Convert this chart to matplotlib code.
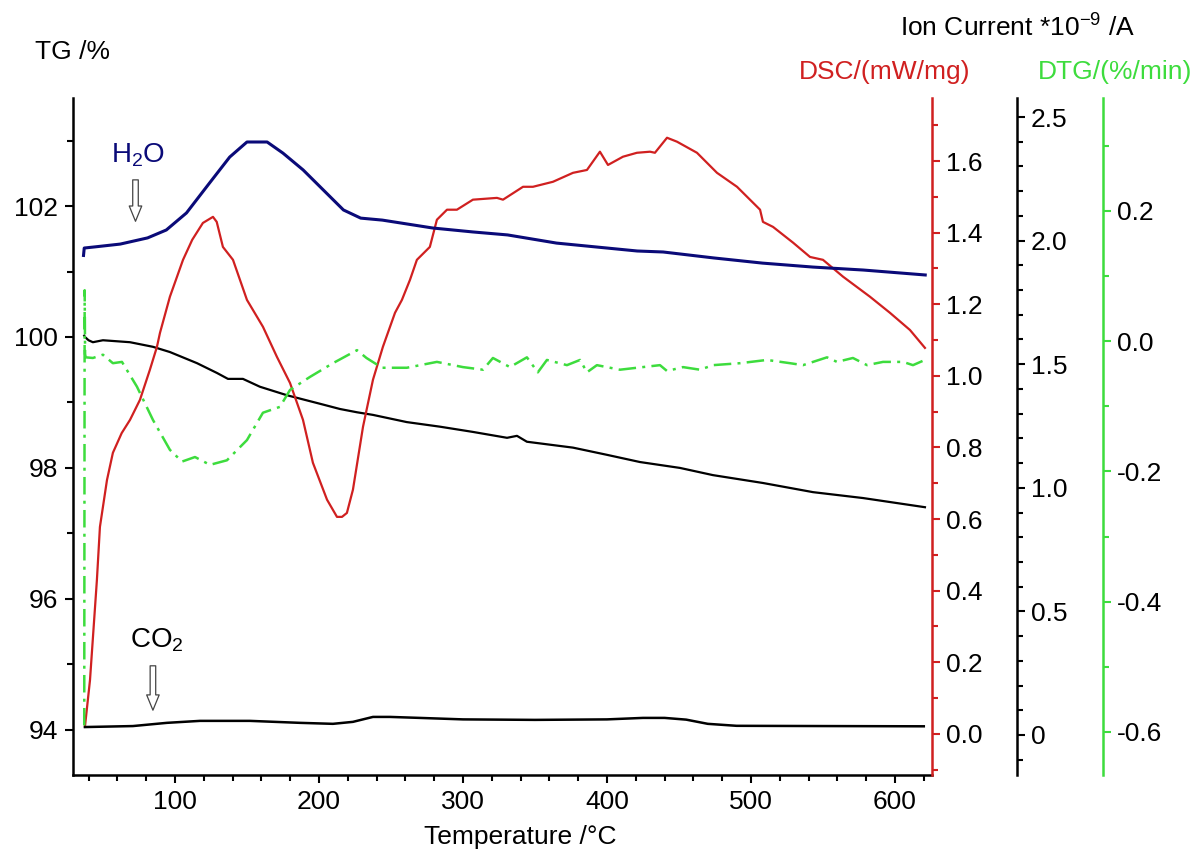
import matplotlib
matplotlib.use("Agg")
import matplotlib.pyplot as plt
from matplotlib.ticker import FixedLocator, MultipleLocator

plt.rcParams['font.family'] = ['Liberation Sans', 'DejaVu Sans']
plt.rcParams['mathtext.fontset'] = 'custom'
plt.rcParams['mathtext.rm'] = 'Liberation Sans'
plt.rcParams['axes.unicode_minus'] = False

# ---- data ----
# TG (%)
tg_T = [37, 37.5, 40, 43, 50, 68.8, 84.7, 96.5, 115.3, 129.2, 136.8, 147.2, 159, 177.8,
        200.7, 214.6, 226.4, 237.5, 261, 284, 306.9, 330.6, 337.5, 344.4, 376.4, 400,
        422.9, 450.7, 473.6, 508.3, 543.1, 577.8, 620.8]
tg_val = [100.02, 100.0, 99.95, 99.92, 99.95, 99.92, 99.85, 99.77, 99.60, 99.45, 99.36,
          99.36, 99.24, 99.11, 98.98, 98.90, 98.85, 98.81, 98.70, 98.63, 98.55, 98.46,
          98.49, 98.40, 98.31, 98.20, 98.09, 98.00, 97.89, 97.77, 97.63, 97.54, 97.40]

# DSC (mW/mg)
dsc_T = [37.5, 41, 45.8, 47.9, 52.8, 56.9, 63, 68.8, 75.7, 82.6, 87.5, 89.6, 96.5, 105.6,
         112, 119.4, 126.4, 129, 133.3, 140.3, 150, 161.1, 170.8, 179.9, 188.9, 195.8,
         205.6, 212.5, 216, 219.4, 223.6, 230.6, 237.5, 244.4, 252.8, 257.6, 263.2, 268,
         277, 281.9, 288.9, 295.8, 306.9, 323.6, 327.8, 341.7, 348.6, 362.5, 376.4, 386.1,
         395.1, 400.7, 411.1, 420.8, 429.9, 433.3, 441.7, 448.6, 462.5, 476.4, 490.3,
         506.3, 508.3, 515.3, 529.2, 541, 550, 563.9, 582.6, 596.5, 610.4, 620.8]
dsc_val = [0.02, 0.15, 0.43, 0.578, 0.709, 0.785, 0.84, 0.877, 0.933, 1.017, 1.081, 1.120,
           1.221, 1.324, 1.38, 1.427, 1.444, 1.43, 1.360, 1.324, 1.212, 1.137, 1.053, 0.980,
           0.877, 0.757, 0.654, 0.606, 0.606, 0.617, 0.682, 0.858, 0.989, 1.081, 1.176,
           1.212, 1.268, 1.324, 1.360, 1.436, 1.464, 1.464, 1.492, 1.497, 1.492, 1.528,
           1.528, 1.542, 1.567, 1.575, 1.626, 1.589, 1.612, 1.623, 1.626, 1.623, 1.665,
           1.654, 1.623, 1.567, 1.528, 1.464, 1.430, 1.416, 1.372, 1.332, 1.324, 1.277,
           1.221, 1.176, 1.128, 1.078]

# ion current, H2O (x1e-9 A)
h2o_T = [36.5, 37, 45, 62, 81, 94, 108, 124, 138, 150, 164, 175, 189, 203, 217, 229, 244,
         279, 307, 331, 365, 400, 421, 439, 474, 508, 543, 578, 621]
h2o_val = [1.94, 1.97, 1.975, 1.986, 2.011, 2.043, 2.112, 2.233, 2.338, 2.399, 2.399, 2.354,
           2.286, 2.205, 2.124, 2.091, 2.083, 2.051, 2.035, 2.023, 1.990, 1.970, 1.958,
           1.954, 1.930, 1.909, 1.893, 1.881, 1.861]

# ion current, CO2 (x1e-9 A)
co2_T = [37.5, 70.8, 94.4, 117.4, 152, 186.8, 209.7, 223.6, 237.5, 249.3, 270, 300, 350,
         400, 425, 440, 455, 470, 490, 550, 620]
co2_val = [0.032, 0.036, 0.049, 0.057, 0.057, 0.049, 0.045, 0.053, 0.073, 0.073, 0.069,
           0.063, 0.061, 0.063, 0.069, 0.069, 0.062, 0.045, 0.037, 0.036, 0.035]

# DTG (%/min)
dtg_T = [37, 37.3, 37.6, 38, 43, 50, 56.9, 63.2, 73.6, 84.7, 96.5, 104.9, 113.9, 124.3,
         136.1, 150, 161.1, 172.9, 179.9, 193.8, 209.7, 226.4, 233, 243.8, 261, 281.9, 300,
         313.9, 320.8, 332.6, 344.4, 352, 358.3, 372.2, 381.3, 386.1, 393, 409, 420.8,
         436.8, 441.7, 452.8, 464.6, 473.6, 492.4, 511.1, 527.1, 536.1, 552.8, 559.7,
         570.8, 580.6, 591.7, 605.6, 612.5, 620.8]
dtg_val = [-0.59, 0.078, -0.02, -0.025, -0.026, -0.021, -0.034, -0.032, -0.070, -0.121,
           -0.167, -0.185, -0.178, -0.190, -0.183, -0.152, -0.110, -0.101, -0.075, -0.055,
           -0.034, -0.014, -0.026, -0.041, -0.041, -0.032, -0.040, -0.044, -0.026, -0.040,
           -0.025, -0.048, -0.029, -0.037, -0.029, -0.048, -0.037, -0.044, -0.041, -0.037,
           -0.046, -0.040, -0.044, -0.037, -0.034, -0.029, -0.034, -0.037, -0.025, -0.032,
           -0.026, -0.037, -0.032, -0.032, -0.037, -0.029]

x_ticks = [100, 200, 300, 400, 500, 600]
tg_ticks = [94, 96, 98, 100, 102]
dsc_ticks = [0.0, 0.2, 0.4, 0.6, 0.8, 1.0, 1.2, 1.4, 1.6]
ion_ticks = [0, 0.5, 1.0, 1.5, 2.0, 2.5]
ion_labels = ['0', '0.5', '1.0', '1.5', '2.0', '2.5']
dtg_ticks = [-0.6, -0.4, -0.2, 0.0, 0.2]

RED = '#d02020'
GREEN = '#3ddc3d'
NAVY = '#0a0a78'
FS = 19

fig = plt.figure(figsize=(11.96, 8.5), dpi=100)
W, H = 1196, 850
ax = fig.add_axes([73 / W, 1 - 775 / H, (932 - 73) / W, (775 - 98) / H])
ax2 = ax.twinx()
ax3 = ax.twinx()
ax4 = ax.twinx()


def style_axis(a, side, color):
    for s in ['top', 'left', 'right', 'bottom']:
        a.spines[s].set_visible(False)
    a.spines[side].set_visible(True)
    a.spines[side].set_color(color)
    a.spines[side].set_linewidth(1.8)
    a.tick_params(axis='y', which='both', colors=color, direction='out', width=1.5,
                  labelsize=FS, labelcolor='black', pad=4)
    a.tick_params(axis='y', which='major', length=6)
    a.tick_params(axis='y', which='minor', length=4)


# TG axis (left)
ax.plot(tg_T, tg_val, color='black', lw=1.6)
ax.set_xlim(29.2, 625.7)
ax.set_ylim(93.31, 103.65)
for s in ['top', 'right']:
    ax.spines[s].set_visible(False)
for s in ['left', 'bottom']:
    ax.spines[s].set_linewidth(1.8)
ax.xaxis.set_major_locator(FixedLocator(x_ticks))
ax.xaxis.set_minor_locator(MultipleLocator(20))
ax.yaxis.set_major_locator(FixedLocator(tg_ticks))
ax.yaxis.set_minor_locator(MultipleLocator(1))
ax.tick_params(which='both', direction='out', width=1.5, labelsize=FS)
ax.tick_params(which='major', length=6)
ax.tick_params(which='minor', length=4)
ax.tick_params(axis='x', pad=5)
ax.tick_params(axis='y', pad=5)

# DSC axis
ax2.plot(dsc_T, dsc_val, color=RED, lw=1.6)
ax2.set_ylim(-0.115, 1.776)
style_axis(ax2, 'right', RED)
ax2.yaxis.set_major_locator(FixedLocator(dsc_ticks))
ax2.yaxis.set_minor_locator(MultipleLocator(0.1))
ax2.set_yticklabels(['%.1f' % v for v in dsc_ticks])

# ion current axis
ax3.plot(h2o_T, h2o_val, color=NAVY, lw=2.2)
ax3.plot(co2_T, co2_val, color='black', lw=1.8)
ax3.set_ylim(-0.162, 2.577)
ax3.spines['right'].set_position(('axes', (1017 - 73) / (932 - 73)))
style_axis(ax3, 'right', 'black')
ax3.yaxis.set_major_locator(FixedLocator(ion_ticks))
ax3.yaxis.set_minor_locator(MultipleLocator(0.1))
ax3.set_yticklabels(ion_labels)

# DTG axis
ax4.plot(dtg_T, dtg_val, color=GREEN, lw=1.8, dashes=[7, 2.5, 1.2, 2.5])
ax4.set_ylim(-0.666, 0.373)
ax4.spines['right'].set_position(('axes', (1103 - 73) / (932 - 73)))
style_axis(ax4, 'right', GREEN)
ax4.yaxis.set_major_locator(FixedLocator(dtg_ticks))
ax4.yaxis.set_minor_locator(MultipleLocator(0.1))
ax4.set_yticklabels(['%.1f' % v for v in dtg_ticks])

# hollow arrows and gas labels
arrow = dict(arrowstyle='simple,head_length=1.1,head_width=0.9,tail_width=0.4',
             fc='white', ec='#444444', lw=0.9)
ax3.annotate('', xy=(72.6, 2.067), xytext=(72.6, 2.257), arrowprops=arrow)
ax3.annotate('', xy=(84.7, 0.089), xytext=(84.7, 0.291), arrowprops=arrow)
ax3.text(74.3, 2.346, r'H$_{\rm 2}$O', color=NAVY, fontsize=FS + 1, ha='center', va='center')
ax3.text(87.5, 0.384, r'CO$_{\rm 2}$', color='black', fontsize=FS + 1, ha='center', va='center')

# axis titles
fig.text(35 / W, 1 - 52 / H, 'TG /%', fontsize=FS, ha='left', va='center')
fig.text(1018 / W, 1 - 27 / H, r'Ion Current *10$^{\rm{-}9}$ /A', fontsize=FS,
         ha='center', va='center')
fig.text(885 / W, 1 - 72 / H, 'DSC/(mW/mg)', fontsize=FS, color=RED, ha='center', va='center')
fig.text(1115 / W, 1 - 72 / H, 'DTG/(%/min)', fontsize=FS, color=GREEN, ha='center', va='center')
fig.text(520 / W, 1 - 837 / H, 'Temperature /°C', fontsize=FS, ha='center', va='center')

fig.savefig('out.png', dpi=100)
